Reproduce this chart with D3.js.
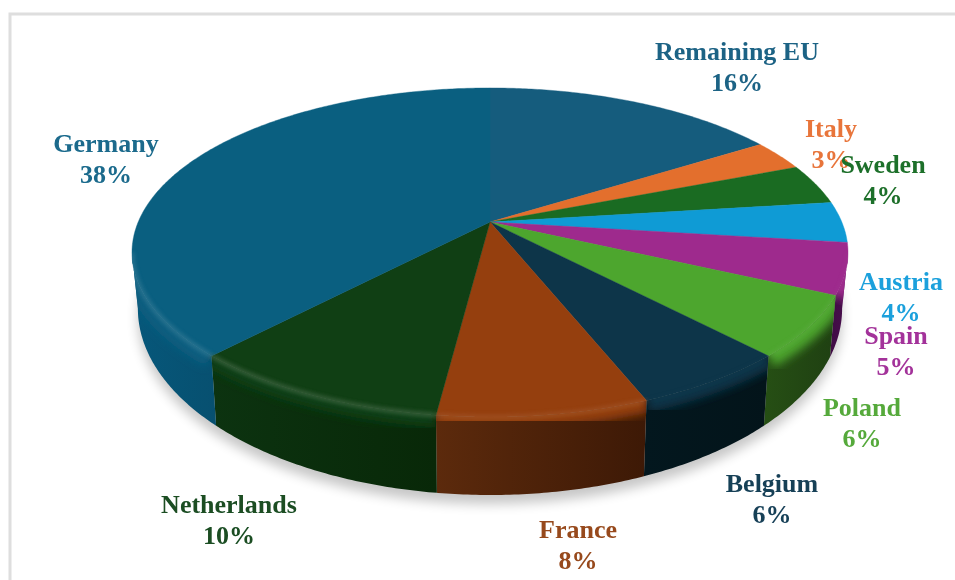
<!DOCTYPE html>
<html>
<head>
<meta charset="utf-8">
<script src="https://cdn.jsdelivr.net/npm/d3@7"></script>
<style>
  html, body { margin: 0; padding: 0; background: #fff; }
  svg { display: block; }
  text { font-family: "Liberation Serif", serif; font-weight: bold; font-size: 26px; text-anchor: middle; }
</style>
</head>
<body>
<svg id="drawing_region"></svg>
<script>
const countries = ["Remaining EU", "Italy", "Sweden", "Austria", "Spain", "Poland", "Belgium", "France", "Netherlands", "Germany"];
const shares = [16, 3, 4, 4, 5, 6, 6, 8, 10, 38];

// styles, same order as countries
const topColors = ["#155c7d", "#e36f2d", "#1a6b22", "#0f9bd5", "#9e2a8d", "#4da62e", "#0d3549", "#953f0e", "#103f14", "#0a5f80"];
const wallFrom = ["#0b3f57", "#8a4319", "#0f4014", "#0a5f82", "#3f0c44", "#264f14", "#03171e", "#5c2a0c", "#0c3310", "#06577a"];
const wallTo = ["#0b3f57", "#8a4319", "#0f4014", "#0a5f82", "#4a0f4e", "#1f4012", "#03141a", "#3d1906", "#082808", "#075070"];
const labelColors = ["#1f6385", "#e8743a", "#1f6f2a", "#1aa0dc", "#a3339a", "#55a93a", "#153f57", "#974a1c", "#1a4d24", "#1a6a8c"];
const glow = [0, 0, 0, 0, 0.1, 0.25, 0.05, 0.45, 0.9, 0.7];

// label anchors: centre x and baseline of the first line
const labelX = [737, 831, 883, 901, 896, 862, 772, 578, 229, 106];
const labelY = [60, 137, 173, 290, 344, 416, 492, 538, 513, 152];

const width = 955, height = 580;

// the pie plate is seen in perspective, so both rims go through a small projection
const topRim = { cx: 490, cy: 222, ax: 351.8, ay: 158.9, k: 0.1855 };
const baseRim = { cx: 490, cy: 274, ax: 346, ay: 180, k: 0.1855 };

function project(rim, t) {
    const w = 1 + rim.k * Math.cos(t);
    return [rim.cx + rim.ax * Math.sin(t) / w, rim.cy - rim.ay * Math.cos(t) / w];
}

function arcPoints(rim, a0, a1) {
    const step = 0.01;
    return d3.range(a0, a1, step).concat([a1]).map(t => project(rim, t));
}

const line = d3.line();

const svg = d3.select("#drawing_region")
    .attr("width", width)
    .attr("height", height);

const defs = svg.append("defs");
[["soft", 2.2], ["band", 5], ["shadow", 6], ["textblur", 0.35]].forEach(f => {
    defs.append("filter").attr("id", f[0])
        .attr("x", "-20%").attr("y", "-20%").attr("width", "140%").attr("height", "140%")
        .append("feGaussianBlur").attr("stdDeviation", f[1]);
});

// frame
svg.append("path")
    .attr("d", `M10,${height} V14 H${width}`)
    .attr("fill", "none")
    .attr("stroke", "#dedede")
    .attr("stroke-width", 3);

const slices = d3.pie().sort(null).value(d => d)(shares);

// soft shadow below the plate
svg.append("path")
    .attr("d", line(arcPoints(baseRim, 0, 2 * Math.PI)) + "Z")
    .attr("transform", "translate(0,9)")
    .attr("fill", "#000")
    .attr("opacity", 0.22)
    .attr("filter", "url(#shadow)");

// visible part of the side wall, between the two points where the rim turns back
const wallStart = Math.acos(-topRim.k), wallEnd = 2 * Math.PI - wallStart;
const front = slices.map((s, i) => ({
    i: i,
    a0: Math.max(s.startAngle, wallStart),
    a1: Math.min(s.endAngle, wallEnd)
})).filter(d => d.a1 > d.a0);

function wallPath(d) {
    const upper = arcPoints(topRim, d.a0, d.a1);
    const lower = arcPoints(baseRim, d.a0, d.a1).reverse();
    return line(upper.concat(lower)) + "Z";
}

// outline of the whole plate, keeps the rim light from spilling outside
const plateClip = defs.append("clipPath").attr("id", "plate");
plateClip.append("path").attr("d", line(arcPoints(topRim, 0, 2 * Math.PI)) + "Z");

front.forEach(d => {
    const grad = defs.append("linearGradient").attr("id", "wall" + d.i);
    grad.append("stop").attr("offset", "0%").attr("stop-color", wallFrom[d.i]);
    grad.append("stop").attr("offset", "100%").attr("stop-color", wallTo[d.i]);
    defs.append("clipPath").attr("id", "clip" + d.i)
        .append("path").attr("d", wallPath(d));
    plateClip.append("path").attr("d", wallPath(d));
});

const walls = svg.append("g");
walls.selectAll("path")
    .data(front)
    .join("path")
    .attr("d", wallPath)
    .attr("fill", d => `url(#wall${d.i})`);

// bevel: the top colour fades into the wall just under the rim
const bevel = svg.append("g");
front.forEach(d => {
    bevel.append("g").attr("clip-path", `url(#clip${d.i})`)
        .append("path")
        .attr("d", line(arcPoints(topRim, d.a0, d.a1)))
        .attr("fill", "none")
        .attr("stroke", topColors[d.i])
        .attr("stroke-width", 24)
        .attr("filter", "url(#band)");
});

// top face
svg.append("g").selectAll("path")
    .data(slices)
    .join("path")
    .attr("d", s => line([[topRim.cx, topRim.cy]].concat(arcPoints(topRim, s.startAngle, s.endAngle))) + "Z")
    .attr("fill", (s, i) => topColors[i])
    .attr("stroke", (s, i) => topColors[i])
    .attr("stroke-width", 0.4);

// light line along the rim, drawn over the face so it has no hard edge
const rimLight = svg.append("g").attr("clip-path", "url(#plate)");
front.forEach(d => {
    rimLight.append("path")
        .attr("d", line(arcPoints(topRim, d.a0, d.a1)))
        .attr("fill", "none")
        .attr("stroke", d3.interpolateRgb(topColors[d.i], "#fff")(0.2))
        .attr("stroke-width", 4)
        .attr("opacity", glow[d.i])
        .attr("filter", "url(#soft)");
});

// labels
const labels = svg.append("g").attr("filter", "url(#textblur)")
    .selectAll("text")
    .data(countries)
    .join("text")
    .attr("fill", (d, i) => labelColors[i])
    .attr("x", (d, i) => labelX[i])
    .attr("y", (d, i) => labelY[i]);

labels.append("tspan")
    .text(d => d);

labels.append("tspan")
    .attr("x", (d, i) => labelX[i])
    .attr("dy", 30.5)
    .text((d, i) => shares[i] + "%");
</script>
</body>
</html>
